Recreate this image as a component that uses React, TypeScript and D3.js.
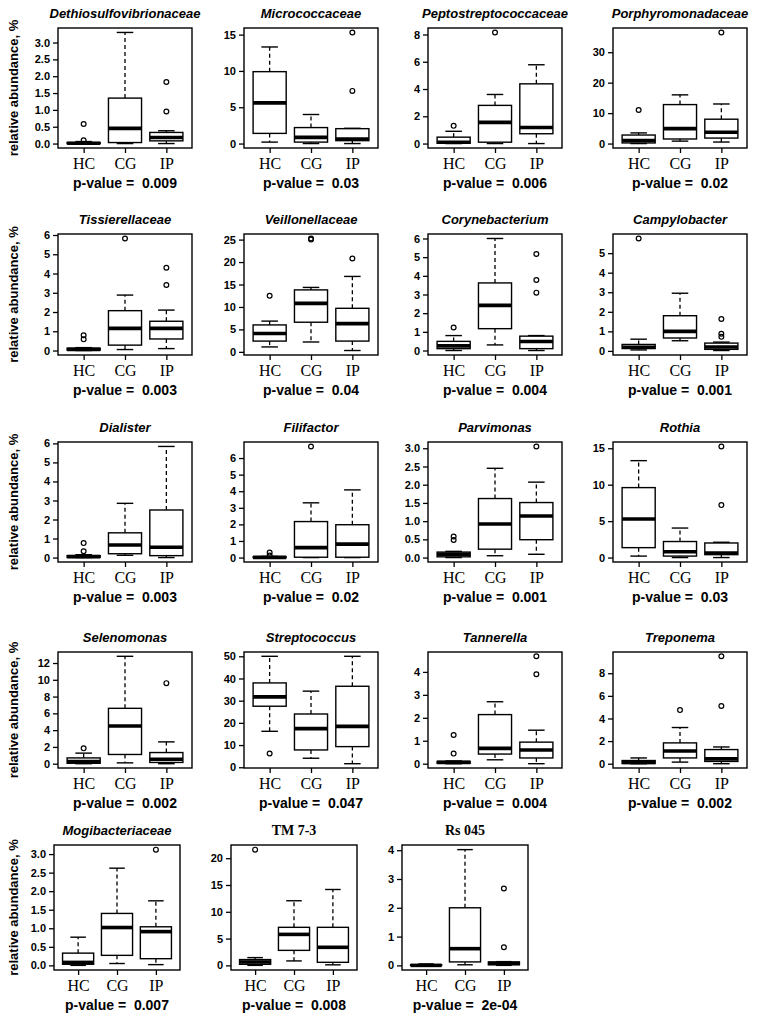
import React from "react";
import * as d3 from "d3";

// -- DATA --
const groups = ["HC", "CG", "IP"];

const titles = [
  "Dethiosulfovibrionaceae", "Micrococcaceae", "Peptostreptococcaceae", "Porphyromonadaceae",
  "Tissierellaceae", "Veillonellaceae", "Corynebacterium", "Campylobacter",
  "Dialister", "Filifactor", "Parvimonas", "Rothia",
  "Selenomonas", "Streptococcus", "Tannerella", "Treponema",
  "Mogibacteriaceae", "TM 7-3", "Rs 045",
];

const pValues = [
  "0.009", "0.03", "0.006", "0.02",
  "0.003", "0.04", "0.004", "0.001",
  "0.003", "0.02", "0.001", "0.03",
  "0.002", "0.047", "0.004", "0.002",
  "0.007", "0.008", "2e-04",
];

// these two are not genus names, so no italics
const plainTitles = ["TM 7-3", "Rs 045"];

const tickLabels = [
  ["0.0", "0.5", "1.0", "1.5", "2.0", "2.5", "3.0"],
  ["0", "5", "10", "15"],
  ["0", "2", "4", "6", "8"],
  ["0", "10", "20", "30"],
  ["0", "1", "2", "3", "4", "5", "6"],
  ["0", "5", "10", "15", "20", "25"],
  ["0", "1", "2", "3", "4", "5", "6"],
  ["0", "1", "2", "3", "4", "5"],
  ["0", "1", "2", "3", "4", "5", "6"],
  ["0", "1", "2", "3", "4", "5", "6"],
  ["0.0", "0.5", "1.0", "1.5", "2.0", "2.5", "3.0"],
  ["0", "5", "10", "15"],
  ["0", "2", "4", "6", "8", "10", "12"],
  ["0", "10", "20", "30", "40", "50"],
  ["0", "1", "2", "3", "4"],
  ["0", "2", "4", "6", "8"],
  ["0.0", "0.5", "1.0", "1.5", "2.0", "2.5", "3.0"],
  ["0", "5", "10", "15", "20"],
  ["0", "1", "2", "3", "4"],
];

// [lower whisker, q1, median, q3, upper whisker] for HC, CG, IP
const boxStats = [
  [[0, 0, 0.01, 0.03, 0.06], [0, 0.03, 0.45, 1.35, 3.3], [0, 0.08, 0.18, 0.33, 0.38]],
  [[0.2, 1.4, 5.6, 9.9, 13.3], [0, 0.2, 0.85, 2.2, 4.0], [0, 0.4, 0.63, 2.05, 2.1]],
  [[0, 0.02, 0.1, 0.47, 0.9], [0, 0.1, 1.55, 2.8, 3.6], [0, 0.72, 1.18, 4.38, 5.78]],
  [[0, 0.2, 1.0, 2.8, 3.5], [0.8, 1.5, 4.9, 12.8, 16], [0.5, 1.8, 3.7, 8.0, 13]],
  [[0, 0.02, 0.06, 0.12, 0.15], [0.05, 0.28, 1.15, 2.07, 2.88], [0.1, 0.6, 1.15, 1.52, 2.1]],
  [[1.1, 2.4, 4.1, 6.0, 6.85], [2.2, 6.6, 10.8, 13.8, 14.35], [0.3, 2.4, 6.3, 9.7, 16.8]],
  [[0, 0.1, 0.25, 0.49, 0.8], [0.3, 1.17, 2.42, 3.62, 6.0], [0, 0.1, 0.48, 0.77, 0.8]],
  [[0.05, 0.12, 0.19, 0.33, 0.6], [0.52, 0.66, 1.0, 1.8, 2.95], [0.02, 0.08, 0.2, 0.4, 0.45]],
  [[0, 0.01, 0.05, 0.1, 0.15], [0.12, 0.2, 0.66, 1.3, 2.85], [0, 0.1, 0.54, 2.5, 5.84]],
  [[0, 0, 0.01, 0.04, 0.07], [0, 0.02, 0.6, 2.17, 3.3], [0, 0.02, 0.81, 1.98, 4.08]],
  [[0, 0.02, 0.09, 0.15, 0.17], [0.05, 0.23, 0.92, 1.62, 2.45], [0.09, 0.49, 1.14, 1.51, 2.07]],
  [[0.2, 1.36, 5.3, 9.6, 13.3], [0, 0.2, 0.8, 2.2, 4.05], [0, 0.4, 0.63, 2.0, 2.1]],
  [[0, 0.05, 0.27, 0.69, 1.26], [0.1, 1.1, 4.5, 6.6, 12.8], [0, 0.15, 0.53, 1.33, 2.6]],
  [[16.2, 27.5, 31.7, 38, 50], [4.06, 7.8, 17.4, 24, 34.3], [1.6, 9.3, 18.4, 36.5, 50]],
  [[0, 0.02, 0.06, 0.1, 0.12], [0.17, 0.42, 0.67, 2.14, 2.7], [0, 0.25, 0.6, 0.94, 1.46]],
  [[0, 0.02, 0.1, 0.28, 0.51], [0.14, 0.51, 1.13, 1.84, 3.2], [0, 0.2, 0.43, 1.25, 1.48]],
  [[0, 0.03, 0.08, 0.33, 0.76], [0.05, 0.27, 1.02, 1.4, 2.62], [0.02, 0.18, 0.91, 1.04, 1.74]],
  [[0, 0.2, 0.63, 1.08, 1.45], [0.83, 2.8, 5.78, 7.1, 12.06], [0.1, 0.57, 3.37, 7.1, 14.16]],
  [[0, 0, 0, 0.02, 0.05], [0.02, 0.12, 0.58, 2.0, 4.02], [0, 0.02, 0.07, 0.12, 0.13]],
];

const outliers = [
  [[0.1, 0.58], [], [0.95, 1.83]],
  [[], [], [7.25, 15.3]],
  [[1.3], [8.15], []],
  [[11], [], [36.5]],
  [[0.58, 0.79], [5.82], [3.4, 4.3]],
  [[12.5], [25.0, 25.25], [20.8]],
  [[1.23], [], [3.1, 3.78, 5.17]],
  [[5.75], [], [0.72, 0.88, 1.63]],
  [[0.33, 0.76], [], []],
  [[0.12, 0.3], [6.7], []],
  [[0.48, 0.58], [], [3.05]],
  [[], [], [7.2, 15.25]],
  [[1.83], [], [9.6]],
  [[6.2], [], []],
  [[0.44, 1.25], [], [3.9, 4.68]],
  [[], [4.74], [5.1, 9.5]],
  [[], [], [3.12]],
  [[21.6], [], []],
  [[], [], [0.63, 2.67]],
];

// -- LAYOUT (px) --
const rowTop = [28, 234, 442, 652, 845];
const rowBottom = [148, 355, 562, 768, 970];
const colLeft = [58, 244, 428, 613];
const lastRowLeft = [54, 231, 402];
const panelW = 134;
const lastRowW = 126;

const SANS = "'Liberation Sans', Arial, Helvetica, sans-serif";
const SERIF = "'Liberation Serif', 'Times New Roman', Times, serif";

const App = () => {
  const svgRef = React.useRef<SVGSVGElement>(null);

  React.useEffect(() => {
    const svg = d3.select(svgRef.current);
    svg.selectAll("*").remove();
    svg.append("rect").attr("width", 758).attr("height", 1017).attr("fill", "#fff");

    titles.forEach((title, i) => {
      const row = Math.floor(i / 4);
      const col = i % 4;
      const left = row < 4 ? colLeft[col] : lastRowLeft[col];
      const w = row < 4 ? panelW : lastRowW;
      const top = rowTop[row];
      const bottom = rowBottom[row];

      const stats = boxStats[i];
      const outs = outliers[i];
      const all = stats.flat().concat(outs.flat());
      const lo = d3.min(all) as number;
      const hi = d3.max(all) as number;
      const pad = (hi - lo) * 0.04; // R's default axis extension

      const y = d3.scaleLinear().domain([lo - pad, hi + pad]).range([bottom, top]);
      const x = d3.scaleLinear().domain([0.38, 3.62]).range([left, left + w]);

      const g = svg.append("g");

      // boxes
      stats.forEach((s, j) => {
        const at = j + 1;
        const [wLo, q1, med, q3, wHi] = s;
        // whiskers + staples
        [[q3, wHi], [q1, wLo]].forEach(([a, b]) => {
          g.append("line")
            .attr("x1", x(at)).attr("x2", x(at))
            .attr("y1", y(a)).attr("y2", y(b))
            .attr("stroke", "#000").attr("stroke-width", 1.3)
            .attr("stroke-dasharray", "4,3");
          g.append("line")
            .attr("x1", x(at - 0.2)).attr("x2", x(at + 0.2))
            .attr("y1", y(b)).attr("y2", y(b))
            .attr("stroke", "#000").attr("stroke-width", 1.4);
        });
        g.append("rect")
          .attr("x", x(at - 0.4))
          .attr("y", y(q3))
          .attr("width", x(at + 0.4) - x(at - 0.4))
          .attr("height", Math.max(0.5, y(q1) - y(q3)))
          .attr("fill", "#fff")
          .attr("stroke", "#000")
          .attr("stroke-width", 1.4);
        g.append("line")
          .attr("x1", x(at - 0.4)).attr("x2", x(at + 0.4))
          .attr("y1", y(med)).attr("y2", y(med))
          .attr("stroke", "#000").attr("stroke-width", 3.6);
        // outliers
        g.selectAll(null)
          .data(outs[j])
          .enter()
          .append("circle")
          .attr("cx", x(at))
          .attr("cy", (d) => y(d))
          .attr("r", 2.4)
          .attr("fill", "none")
          .attr("stroke", "#000")
          .attr("stroke-width", 1.2);
      });

      // frame
      g.append("rect")
        .attr("x", left).attr("y", top)
        .attr("width", w).attr("height", bottom - top)
        .attr("fill", "none").attr("stroke", "#000").attr("stroke-width", 1.4);

      // y axis
      const labels = tickLabels[i];
      g.append("g")
        .attr("transform", `translate(${left},0)`)
        .call(
          d3.axisLeft(y)
            .tickValues(labels.map(Number))
            .tickFormat((_d, k) => labels[k])
            .tickSize(5)
            .tickPadding(3)
        )
        .call((a) => a.select(".domain").remove())
        .call((a) => a.selectAll("line").attr("stroke-width", 1.3))
        .attr("font-family", SANS)
        .attr("font-size", 11)
        .attr("font-weight", "bold");

      // x axis
      g.append("g")
        .attr("transform", `translate(0,${bottom})`)
        .call(
          d3.axisBottom(x)
            .tickValues([1, 2, 3])
            .tickFormat((_d, k) => groups[k])
            .tickSize(5)
            .tickPadding(5)
        )
        .call((a) => a.select(".domain").remove())
        .call((a) => a.selectAll("line").attr("stroke-width", 1.3))
        .attr("font-family", SERIF)
        .attr("font-size", 16);

      // title
      const plain = plainTitles.includes(title);
      g.append("text")
        .attr("x", left + w / 2)
        .attr("y", top - 10)
        .attr("text-anchor", "middle")
        .attr("font-family", plain ? SERIF : SANS)
        .attr("font-size", plain ? 14 : 13)
        .attr("font-weight", "bold")
        .attr("font-style", plain ? "normal" : "italic")
        .text(title);

      // p-value
      g.append("text")
        .attr("x", left + w / 2)
        .attr("y", bottom + 40)
        .attr("text-anchor", "middle")
        .attr("font-family", SANS)
        .attr("font-size", 14)
        .attr("font-weight", "bold")
        .style("white-space", "pre")
        .text(`p-value =  ${pValues[i]}`);

      // y label on first column
      if (col === 0) {
        g.append("text")
          .attr("transform", `translate(18,${(top + bottom) / 2}) rotate(-90)`)
          .attr("text-anchor", "middle")
          .attr("font-family", SANS)
          .attr("font-size", 13)
          .attr("font-weight", "bold")
          .text("relative abundance, %");
      }
    });
  }, []);

  return (
    <svg
      ref={svgRef}
      width={758}
      height={1017}
      style={{ position: "absolute", left: 0, top: 0 }}
    />
  );
};

export default App;
